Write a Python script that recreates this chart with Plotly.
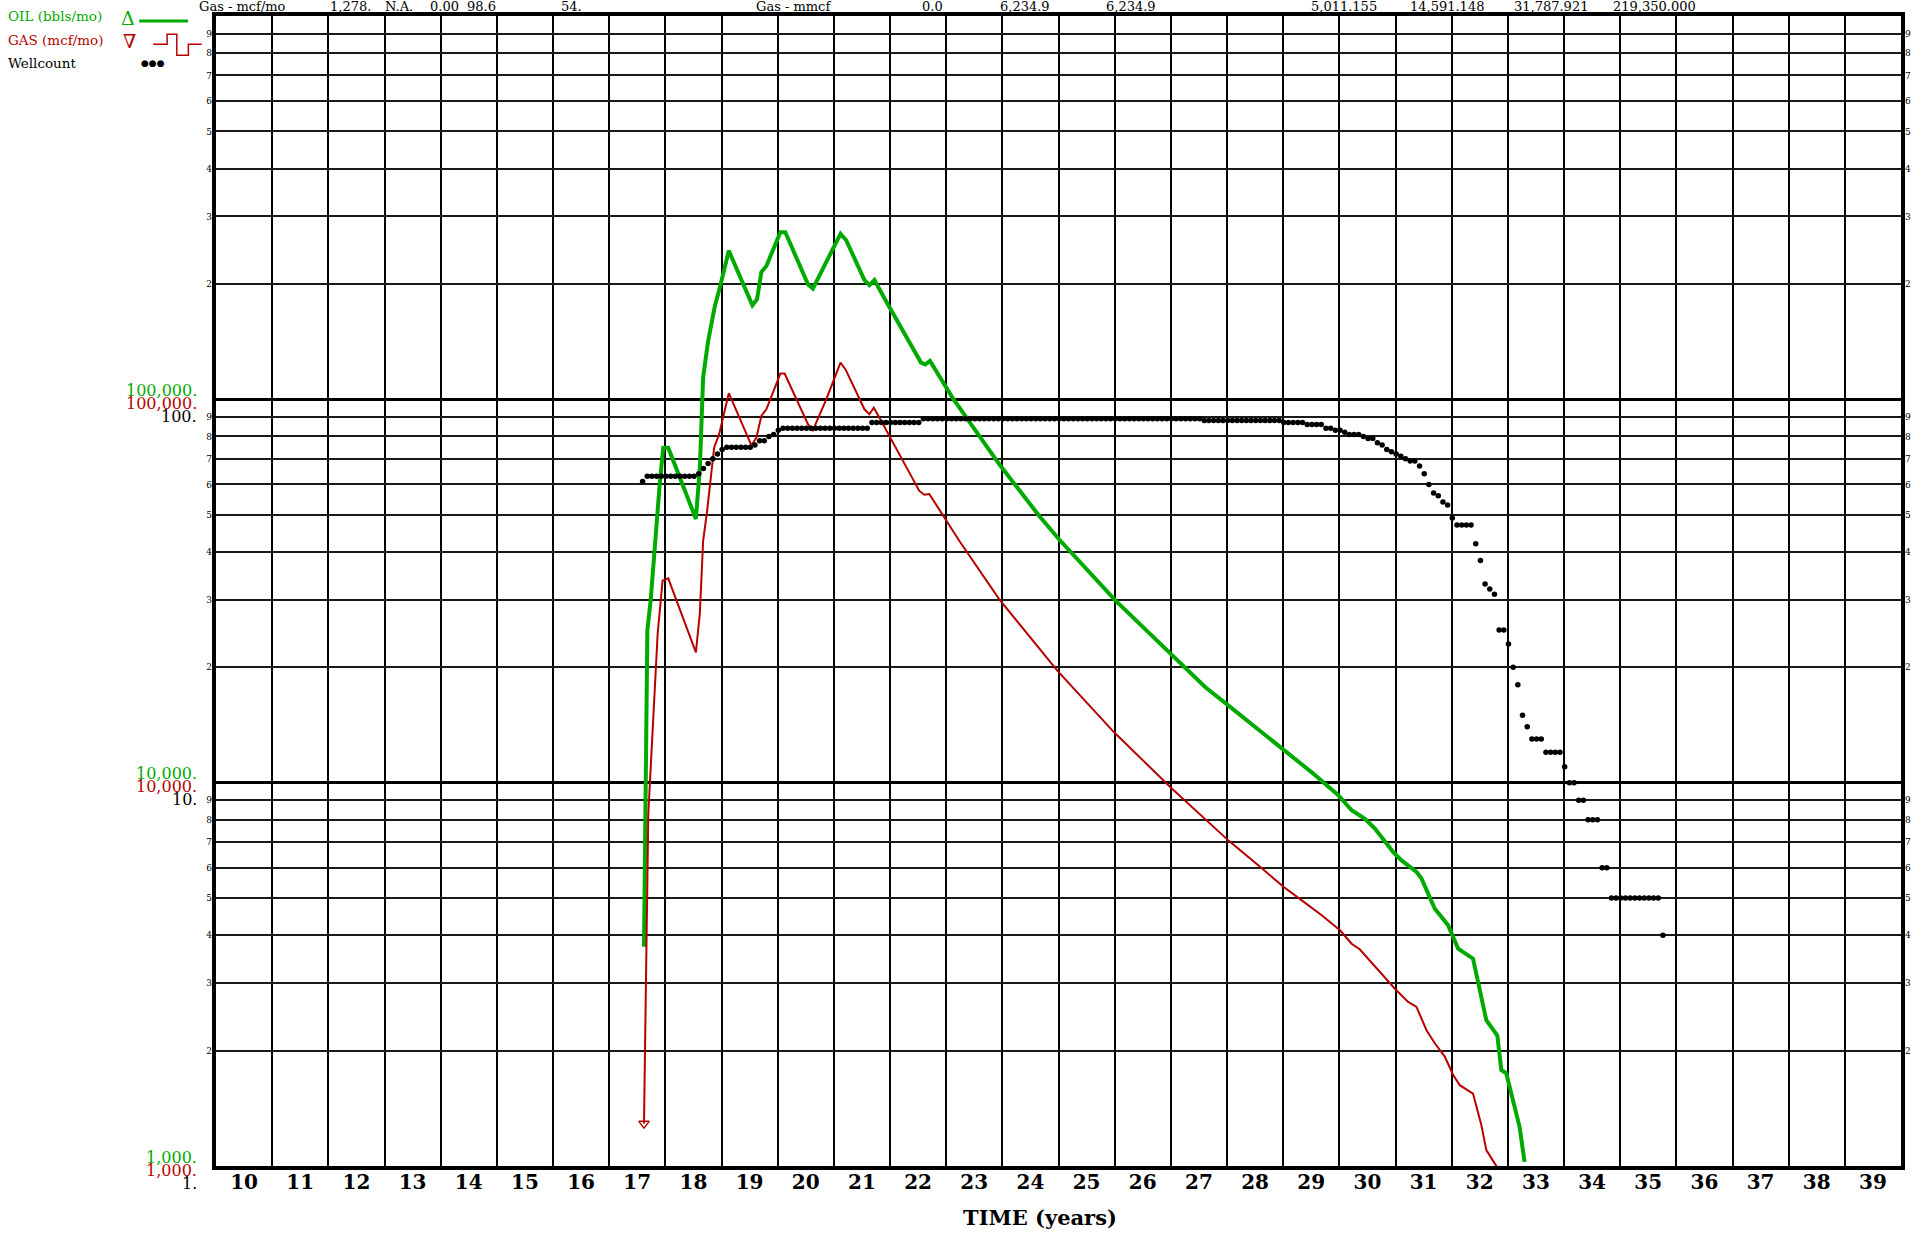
import plotly.graph_objects as go

# ---------------- data ----------------
oil_t = [17.62, 17.68, 17.74, 17.815, 17.904, 17.963, 18.052, 18.544, 18.615, 18.673,
         18.762, 18.881, 18.970, 19.130, 19.550, 19.633, 19.710, 19.799, 20.048, 20.136,
         20.539, 20.627, 20.865, 21.119, 21.220, 21.545, 21.634, 21.723, 21.930, 22.552,
         22.629, 22.712, 23.114, 23.943, 24.654, 25.009, 26.016, 27.022, 27.615, 28.028,
         29.035, 29.508, 29.982, 30.219, 30.456, 30.633, 30.959, 31.108, 31.374, 31.463,
         31.700, 31.936, 32.114, 32.380, 32.617, 32.813, 32.884, 32.972, 33.209, 33.298]
oil_v = [3730, 25000, 30000, 42800, 61200, 74800, 74800, 48750, 66400, 114000,
         141900, 175000, 195400, 244300, 175800, 182400, 214800, 222800, 272900, 272900,
         199500, 194500, 227000, 270400, 260000, 204600, 198600, 204600, 180300, 124700,
         123300, 125900, 100900, 67800, 49700, 43150, 29850, 21430, 17740, 15890,
         12130, 10640, 9270, 8470, 8050, 7590, 6590, 6270, 5850, 5620,
         4690, 4250, 3690, 3475, 2400, 2190, 1780, 1745, 1265, 1025]

gas_t = [17.62, 17.697, 17.863, 17.951, 18.052, 18.544, 18.615, 18.673, 18.744, 18.869,
         18.958, 19.130, 19.533, 19.621, 19.710, 19.799, 20.048, 20.124, 20.539, 20.627,
         20.865, 21.119, 21.208, 21.545, 21.634, 21.711, 21.812, 22.522, 22.611, 22.700,
         23.233, 23.943, 24.979, 25.986, 26.993, 28.028, 28.561, 29.005, 29.331, 29.686,
         30.012, 30.219, 30.367, 30.515, 30.574, 30.989, 31.226, 31.374, 31.552, 31.700,
         31.877, 32.025, 32.144, 32.380, 32.528, 32.617, 32.795, 32.85]
gas_v = [1290, 8300, 24430, 33650, 34120, 21880, 27730, 42760, 51170, 74820,
         81100, 103750, 75860, 79430, 90570, 94190, 116700, 116700, 86100, 82990,
         100000, 124700, 119700, 94190, 91410, 95060, 89540, 57680, 56360, 56620,
         42760, 30130, 19590, 13550, 9730, 7060, 6080, 5350, 4930, 4510,
         4120, 3800, 3670, 3475, 3400, 2900, 2680, 2600, 2260, 2090,
         1930, 1730, 1625, 1545, 1280, 1100, 1000, 920]

well_start = 17.595   # first monthly wellcount point (years)
well_counts = [
    61, 63, 63, 63, 63, 63, 63, 63, 63, 63, 63, 63, 64, 66, 68, 70, 72, 74, 75, 75,
    75, 75, 75, 75, 76, 78, 78, 80, 81, 83, 84, 84, 84, 84, 84, 84, 84, 84, 84, 84,
    84, 84, 84, 84, 84, 84, 84, 84, 84, 87, 87, 87, 87, 87, 87, 87, 87, 87, 87, 87,
    89, 89, 89, 89, 89, 89, 89, 89, 89, 89, 89, 89, 89, 89, 89, 89, 89, 89, 89, 89,
    89, 89, 89, 89, 89, 89, 89, 89, 89, 89, 89, 89, 89, 89, 89, 89, 89, 89, 89, 89,
    89, 89, 89, 89, 89, 89, 89, 89, 89, 89, 89, 89, 89, 89, 89, 89, 89, 89, 89, 89,
    88, 88, 88, 88, 88, 88, 88, 88, 88, 88, 88, 88, 88, 88, 88, 88, 88, 87, 87, 87,
    87, 87, 86, 86, 86, 86, 84, 84, 83, 83, 82, 81, 81, 81, 80, 79, 79, 77, 76, 74,
    73, 72, 71, 70, 69, 69, 67, 64, 60, 57, 56, 54, 53, 49, 47, 47, 47, 47, 42, 38,
    33, 32, 31, 25, 25, 23, 20, 18, 15, 14, 13, 13, 13, 12, 12, 12, 12, 11, 10, 10,
    9, 9, 8, 8, 8, 6, 6, 5, 5, 5, 5, 5, 5, 5, 5, 5, 5, 5, 4]
well_t = [well_start + i / 12 for i in range(len(well_counts))]

year_labels = [str(y) for y in range(10, 40)]
year_bounds = list(range(10, 41))
well_decades = [1, 10, 100]
oil_decade_text = ["1,000.", "10,000.", "100,000."]
gas_decade_text = ["1,000.", "10,000.", "100,000."]
well_decade_text = ["1.", "10.", "100."]
minor_digits = [2, 3, 4, 5, 6, 7, 8, 9]

header_text = ["Gas - mcf/mo", "1,278.", "N.A.", "0.00", "98.6", "54.", "Gas - mmcf", "0.0",
               "6,234.9", "6,234.9", "5,011.155", "14,591.148", "31,787.921", "219,350.000"]
header_x = [197, 328, 383, 429, 466, 560, 755, 922, 1000, 1106, 1312, 1411, 1515, 1614]

GREEN = "#00AA00"
RED = "#B80000"
SERIF = "DejaVu Serif"

# ---------------- geometry ----------------
W, H = 1923, 1237
L, R, T, B = 216, 1905, 15, 1166


def px(x):
    return (x - L) / (R - L)


def py(y):
    return (B - y) / (B - T)


fig = go.Figure()

fig.add_trace(go.Scatter(x=oil_t, y=oil_v, mode="lines", yaxis="y",
                         line=dict(color=GREEN, width=4), showlegend=False,
                         hoverinfo="skip"))
fig.add_trace(go.Scatter(x=gas_t, y=gas_v, mode="lines", yaxis="y",
                         line=dict(color=RED, width=2), showlegend=False,
                         hoverinfo="skip"))
fig.add_trace(go.Scatter(x=[gas_t[0]], y=[gas_v[0]], mode="markers", yaxis="y",
                         marker=dict(symbol="triangle-down-open", size=9, color=RED,
                                     line=dict(width=1.5, color=RED)),
                         showlegend=False, hoverinfo="skip", cliponaxis=False))
fig.add_trace(go.Scatter(x=well_t, y=well_counts, mode="markers", yaxis="y2",
                         marker=dict(color="black", size=5.5), showlegend=False,
                         hoverinfo="skip"))
fig.add_trace(go.Scatter(x=[], y=[], yaxis="y3", showlegend=False))

minor_well = [d * m for m in well_decades for d in minor_digits]
minor_txt = [str(d) for m in well_decades for d in minor_digits]
minor_oil = [d * m * 1000 for m in well_decades for d in minor_digits]

fig.update_layout(
    width=W, height=H,
    margin=dict(l=L, r=W - R, t=T, b=H - B),
    paper_bgcolor="white", plot_bgcolor="white",
    showlegend=False,
    xaxis=dict(range=[10, 40], showgrid=False, zeroline=False,
               tickmode="array", tickvals=[y + 0.5 for y in year_bounds[:-1]],
               ticktext=year_labels, ticks="", ticklabelstandoff=-5,
               tickfont=dict(family=SERIF, size=20, color="black", weight="bold"),
               showline=True, linewidth=4, linecolor="black", mirror=True,
               minor=dict(tickmode="array", tickvals=year_bounds, showgrid=True,
                          gridcolor="#000000", gridwidth=2.4, ticks="")),
    yaxis=dict(type="log", range=[3, 6], zeroline=False,
               tickmode="array", tickvals=[1e3, 1e4, 1e5, 1e6], showticklabels=False,
               showgrid=True, gridcolor="#000000", gridwidth=3, ticks="",
               showline=True, linewidth=4, linecolor="black", mirror=True,
               minor=dict(tickmode="array", tickvals=minor_oil, showgrid=True,
                          gridcolor="#1a1a1a", gridwidth=1.6, ticks="")),
    yaxis2=dict(type="log", range=[0, 3], overlaying="y", side="left",
                showgrid=False, zeroline=False, showline=False, ticks="",
                tickmode="array", tickvals=minor_well, ticktext=minor_txt,
                tickfont=dict(family=SERIF, size=9, color="black"),
                ticklabelstandoff=3),
    yaxis3=dict(type="log", range=[0, 3], overlaying="y", side="right",
                showgrid=False, zeroline=False, showline=False, ticks="",
                tickmode="array", tickvals=minor_well, ticktext=minor_txt,
                tickfont=dict(family=SERIF, size=9, color="black"),
                ticklabelstandoff=3),
)

ann = []
# decade labels (three stacked, coloured)
for k, m in enumerate(well_decades):
    lg = k
    ann.append(dict(x=px(199), xref="paper", y=lg + 3, yref="y", xanchor="right",
                    yanchor="middle", yshift=9, text=oil_decade_text[k], showarrow=False,
                    font=dict(family=SERIF, size=16, color=GREEN)))
    ann.append(dict(x=px(199), xref="paper", y=lg + 3, yref="y", xanchor="right",
                    yanchor="middle", yshift=-4, text=gas_decade_text[k], showarrow=False,
                    font=dict(family=SERIF, size=16, color=RED)))
    ann.append(dict(x=px(199), xref="paper", y=lg, yref="y2", xanchor="right",
                    yanchor="middle", yshift=-17, text=well_decade_text[k], showarrow=False,
                    font=dict(family=SERIF, size=16, color="black")))

# header row
for t, x in zip(header_text, header_x):
    ann.append(dict(x=px(x), xref="paper", y=py(5), yref="paper", xanchor="left",
                    yanchor="middle", text=t, showarrow=False,
                    font=dict(family=SERIF, size=13, color="black")))

# legend
legend_items = [("OIL (bbls/mo)", GREEN, 15), ("GAS (mcf/mo)", RED, 39), ("Wellcount", "black", 62.5)]
for t, c, y in legend_items:
    ann.append(dict(x=px(6), xref="paper", y=py(y), yref="paper", xanchor="left",
                    yanchor="middle", text=t, showarrow=False,
                    font=dict(family=SERIF, size=13.5, color=c)))
ann.append(dict(x=px(128), xref="paper", y=py(17), yref="paper", xanchor="center",
                yanchor="middle", text="Δ", showarrow=False,
                font=dict(family=SERIF, size=19, color=GREEN)))
ann.append(dict(x=px(129), xref="paper", y=py(40), yref="paper", xanchor="center",
                yanchor="middle", text="∇", showarrow=False,
                font=dict(family=SERIF, size=19, color=RED)))
ann.append(dict(x=px(153), xref="paper", y=py(62), yref="paper", xanchor="center",
                yanchor="middle", text="●●●", showarrow=False,
                font=dict(family="DejaVu Sans", size=9, color="black")))

# axis title
ann.append(dict(x=px(1042), xref="paper", y=py(1218), yref="paper", xanchor="center",
                yanchor="middle", text="TIME (years)", showarrow=False,
                font=dict(family=SERIF, size=21, color="black", weight="bold")))

fig.update_layout(annotations=ann)

shapes = [
    dict(type="line", xref="paper", yref="paper", x0=px(139), x1=px(188),
         y0=py(20), y1=py(20), line=dict(color=GREEN, width=3)),
    dict(type="path", xref="paper", yref="paper",
         path="M {a},{b} L {c},{b} L {c},{d} L {e},{d} L {e},{f} L {g},{f} L {g},{b} L {h},{b}".format(
             a=px(153), b=py(43.3), c=px(167), d=py(33.3), e=px(176.7), f=py(54.3),
             g=px(188.3), h=px(201.7)),
         line=dict(color=RED, width=1.5)),
]
fig.update_layout(shapes=shapes)

fig.write_html("out.html")
